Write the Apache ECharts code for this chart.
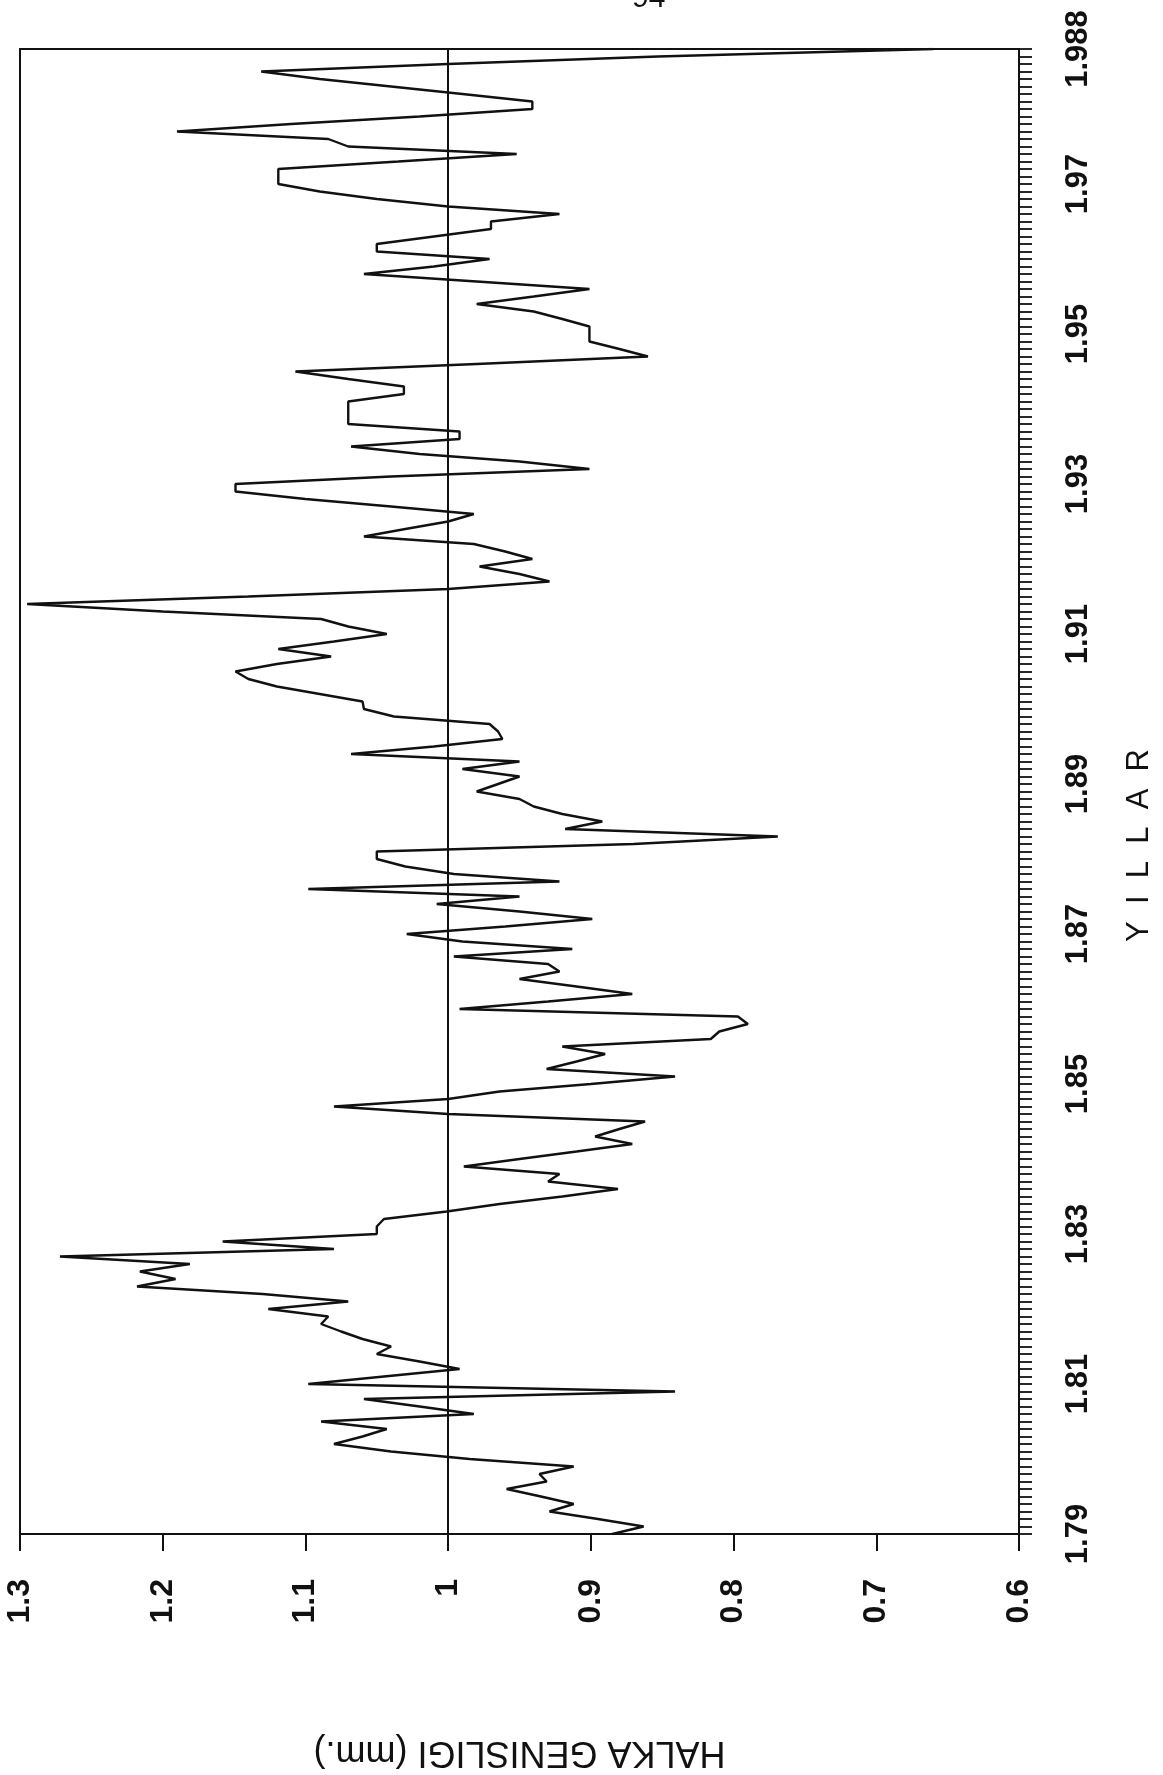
<!DOCTYPE html>
<html>
<head>
<meta charset="utf-8">
<title>Halka genişliği</title>
<script src="https://cdn.jsdelivr.net/npm/echarts@6/dist/echarts.min.js"></script>
<style>
  html, body { margin: 0; padding: 0; background: #ffffff; }
  #chart { width: 1163px; height: 1775px; }
</style>
</head>
<body>
<div id="chart"></div>
<script>
// Annual ring width series (mm), one value per year starting at firstYear
const firstYear = 1790;
const ringWidth = [
  0.885, 0.863, 0.895, 0.929, 0.912, 0.935, 0.959, 0.931, 0.936, 0.912, // 1790s
  0.985, 1.040, 1.080, 1.060, 1.043, 1.089, 0.982, 1.020, 1.059, 0.841, // 1800s
  1.098, 1.045, 0.992, 1.020, 1.050, 1.040, 1.060, 1.075, 1.089, 1.084, // 1810s
  1.126, 1.070, 1.130, 1.218, 1.191, 1.216, 1.181, 1.272, 1.080, 1.158, // 1820s
  1.050, 1.050, 1.045, 1.001, 0.964, 0.920, 0.881, 0.930, 0.922, 0.989, // 1830s
  0.950, 0.910, 0.871, 0.897, 0.880, 0.862, 1.000, 1.080, 1.000, 0.964, // 1840s
  0.900, 0.841, 0.931, 0.910, 0.890, 0.920, 0.816, 0.810, 0.790, 0.797, // 1850s
  0.992, 0.930, 0.871, 0.910, 0.950, 0.922, 0.930, 0.996, 0.913, 0.990, // 1860s
  1.029, 0.960, 0.899, 0.950, 1.008, 0.950, 1.098, 0.922, 0.996, 1.030, // 1870s
  1.050, 1.050, 0.870, 0.769, 0.918, 0.892, 0.920, 0.940, 0.950, 0.980, // 1880s
  0.965, 0.950, 0.990, 0.950, 1.068, 1.010, 0.962, 0.965, 0.971, 1.038, // 1890s
  1.059, 1.060, 1.090, 1.120, 1.140, 1.149, 1.120, 1.082, 1.119, 1.080, // 1900s
  1.043, 1.070, 1.089, 1.200, 1.295, 1.140, 1.000, 0.929, 0.950, 0.978, // 1910s
  0.941, 0.960, 0.982, 1.059, 1.030, 1.000, 0.982, 1.040, 1.100, 1.149, // 1920s
  1.149, 1.040, 0.901, 0.950, 1.020, 1.068, 0.992, 0.992, 1.070, 1.070, // 1930s
  1.070, 1.070, 1.031, 1.031, 1.070, 1.107, 0.980, 0.860, 0.880, 0.901, // 1940s
  0.901, 0.901, 0.920, 0.940, 0.980, 0.940, 0.901, 0.980, 1.059, 1.010, // 1950s
  0.971, 1.050, 1.050, 1.010, 0.970, 0.970, 0.922, 1.000, 1.050, 1.090, // 1960s
  1.119, 1.119, 1.119, 1.035, 0.952, 1.070, 1.084, 1.190, 1.110, 1.020, // 1970s
  0.941, 0.941, 0.990, 1.040, 1.090, 1.131, 1.000, 0.853, 0.660          // 1980-1988
];

// Labelled years on the time axis (printed as year / 1000)
const yearTicks = [1790, 1810, 1830, 1850, 1870, 1890, 1910, 1930, 1950, 1970, 1988];
// Ring width scale
const widthMin = 0.6;
const widthMax = 1.3;
const widthStep = 0.1;
// Reference line for the mean ring width
const referenceWidth = 1;

const lastYear = firstYear + ringWidth.length - 1;
const points = ringWidth.map((w, i) => [w, firstYear + i]);

const ink = '#111111';
const labelFont = 'Liberation Sans, Arial, sans-serif';

const chart = echarts.init(document.getElementById('chart'), null, { renderer: 'canvas' });

chart.setOption({
  backgroundColor: '#ffffff',
  animation: false,
  grid: {
    left: 20, right: 136, top: 49, bottom: 238,
    show: true, borderColor: ink, borderWidth: 2, backgroundColor: 'transparent'
  },
  xAxis: {
    type: 'value',
    min: widthMin, max: widthMax, interval: widthStep,
    inverse: true,
    position: 'bottom',
    name: 'HALKA GENISLIGI (mm.)',
    nameLocation: 'middle',
    nameRotate: 180,
    nameGap: 200,
    nameTextStyle: { color: ink, fontSize: 36, fontFamily: labelFont },
    axisLine: { show: true, onZero: false, lineStyle: { color: ink, width: 2 } },
    axisTick: { show: true, inside: false, length: 17, lineStyle: { color: ink, width: 2 } },
    splitLine: { show: false },
    axisLabel: {
      rotate: 90, margin: 45, color: ink, fontSize: 32, fontWeight: 'bold', fontFamily: labelFont,
      formatter: v => Math.abs(v - 1) < 1e-9 ? '1' : v.toFixed(1)
    }
  },
  yAxis: {
    type: 'value',
    min: firstYear, max: lastYear, interval: 1,
    position: 'right',
    name: 'Y  I  L  L  A  R',
    nameLocation: 'middle',
    nameRotate: 90,
    nameGap: 105,
    nameTextStyle: { color: ink, fontSize: 31, fontFamily: labelFont, padding: [0, 108, 0, 0] },
    axisLine: { show: true, lineStyle: { color: ink, width: 2 } },
    axisTick: { show: true, inside: false, length: 13, lineStyle: { color: ink, width: 1.8 } },
    splitLine: { show: false },
    axisLabel: {
      rotate: 90, margin: 44, color: ink, fontSize: 31, fontWeight: 'bold', fontFamily: labelFont,
      formatter: v => yearTicks.includes(Math.round(v)) ? String(Math.round(v) / 1000) : ''
    }
  },
  graphic: [{
    type: 'text', left: 622, top: -16,
    style: { text: '-94-', fill: ink, fontSize: 30, fontFamily: labelFont }
  }],
  series: [{
    type: 'line',
    data: points,
    showSymbol: false,
    lineStyle: { color: ink, width: 2.4 },
    markLine: {
      silent: true,
      symbol: ['none', 'none'],
      label: { show: false },
      lineStyle: { color: ink, width: 2, type: 'solid' },
      data: [{ xAxis: referenceWidth }]
    }
  }]
});
</script>
</body>
</html>
